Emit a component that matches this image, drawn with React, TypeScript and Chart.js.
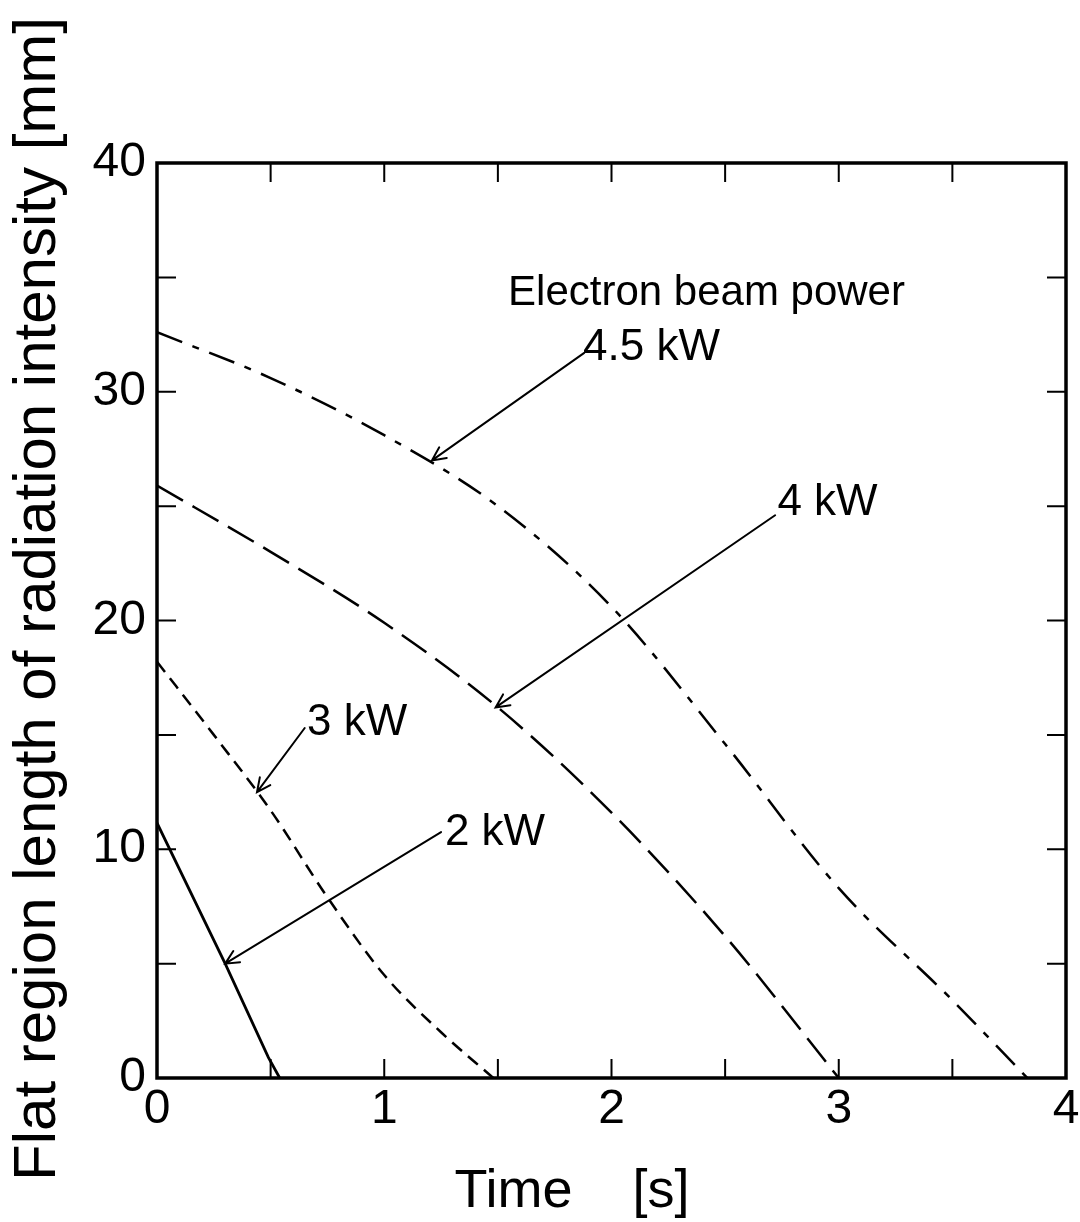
import React, { useEffect, useRef } from "react";
import { Chart, registerables } from "chart.js";

Chart.register(...registerables);

const FONT = '"Liberation Sans", Arial, Helvetica, sans-serif';

// Flat region length [mm] versus time [s] for each electron beam power
const time2kW = [0, 0.3, 0.49, 0.54];
const len2kW = [11.15, 5.0, 0.9, 0];

const time3kW = [0, 0.25, 0.5, 0.75, 1.0, 1.25, 1.48];
const len3kW = [18.2, 15.0, 11.7, 7.9, 4.5, 2.0, 0];

const time4kW = [0, 0.5, 1.0, 1.5, 2.0, 2.5, 3.0];
const len4kW = [25.9, 23.0, 19.9, 16.2, 11.6, 6.2, 0];

const time45kW = [0, 0.5, 1.0, 1.5, 2.0, 2.5, 3.0, 3.5, 3.83];
const len45kW = [32.6, 30.6, 28.1, 25.0, 20.6, 14.6, 8.3, 3.4, 0];

// Axis ranges and tick values
const xRange = [0, 4];
const yRange = [0, 40];
const xLabelStep = 1;
const yLabelStep = 10;
const xTickMarks = [0.5, 1, 1.5, 2, 2.5, 3, 3.5];
const yTickMarks = [5, 10, 15, 20, 25, 30, 35];

const xTitle = "Time    [s]";
const yTitle = "Flat region length of radiation intensity [mm]";

// Callout texts (data coordinates of the text's left baseline)
const calloutTexts = ["Electron beam power", "4.5 kW", "4 kW", "3 kW", "2 kW"];
const calloutTextX = [1.545, 1.875, 2.73, 0.66, 1.267];
const calloutTextY = [33.8, 31.4, 24.6, 15.0, 10.2];
const calloutTextSize = [42, 44, 44, 44, 44];

// Callout arrows: tail and head in data coordinates
const arrowTailX = [1.88, 2.72, 0.65, 1.25];
const arrowTailY = [31.7, 24.6, 15.3, 10.75];
const arrowHeadX = [1.21, 1.49, 0.44, 0.3];
const arrowHeadY = [27.0, 16.2, 12.5, 5.0];

const toPoints = (xs: number[], ys: number[]) => xs.map((x, i) => ({ x, y: ys[i] }));

const framePlugin = {
  id: "frame",
  afterDatasetsDraw(chart: any) {
    const { ctx, chartArea, scales } = chart;
    const { left, right, top, bottom } = chartArea;
    ctx.save();
    ctx.strokeStyle = "#000";
    ctx.lineWidth = 2;
    const tl = 19;
    ctx.beginPath();
    xTickMarks.forEach((v) => {
      const px = scales.x.getPixelForValue(v);
      ctx.moveTo(px, bottom);
      ctx.lineTo(px, bottom - tl);
      ctx.moveTo(px, top);
      ctx.lineTo(px, top + tl);
    });
    yTickMarks.forEach((v) => {
      const py = scales.y.getPixelForValue(v);
      ctx.moveTo(left, py);
      ctx.lineTo(left + tl, py);
      ctx.moveTo(right, py);
      ctx.lineTo(right - tl, py);
    });
    ctx.stroke();
    ctx.lineWidth = 3.5;
    ctx.strokeRect(left, top, right - left, bottom - top);
    ctx.restore();
  },
};

const calloutPlugin = {
  id: "callouts",
  afterDatasetsDraw(chart: any) {
    const { ctx, scales } = chart;
    const sx = scales.x;
    const sy = scales.y;
    ctx.save();
    ctx.fillStyle = "#000";
    ctx.textAlign = "left";
    ctx.textBaseline = "alphabetic";
    calloutTexts.forEach((t, i) => {
      ctx.font = `${calloutTextSize[i]}px ${FONT}`;
      ctx.fillText(t, sx.getPixelForValue(calloutTextX[i]), sy.getPixelForValue(calloutTextY[i]));
    });
    ctx.strokeStyle = "#000";
    ctx.lineWidth = 2;
    ctx.lineCap = "round";
    arrowTailX.forEach((_, i) => {
      const x0 = sx.getPixelForValue(arrowTailX[i]);
      const y0 = sy.getPixelForValue(arrowTailY[i]);
      const x1 = sx.getPixelForValue(arrowHeadX[i]);
      const y1 = sy.getPixelForValue(arrowHeadY[i]);
      const ang = Math.atan2(y0 - y1, x0 - x1);
      const hl = 15;
      const spread = 0.45;
      ctx.beginPath();
      ctx.moveTo(x0, y0);
      ctx.lineTo(x1, y1);
      ctx.moveTo(x1 + hl * Math.cos(ang + spread), y1 + hl * Math.sin(ang + spread));
      ctx.lineTo(x1, y1);
      ctx.lineTo(x1 + hl * Math.cos(ang - spread), y1 + hl * Math.sin(ang - spread));
      ctx.stroke();
    });
    ctx.restore();
  },
};

const titlePlugin = {
  id: "axisTitles",
  afterDraw(chart: any) {
    const { ctx } = chart;
    ctx.save();
    ctx.fillStyle = "#000";
    ctx.font = `54px ${FONT}`;
    ctx.textAlign = "center";
    ctx.textBaseline = "alphabetic";
    ctx.fillText(xTitle, 572, 1207);
    ctx.translate(55, 599);
    ctx.rotate(-Math.PI / 2);
    ctx.font = `60px ${FONT}`;
    ctx.fillText(yTitle, 0, 0);
    ctx.restore();
  },
};

export default function App() {
  const canvasRef = useRef<HTMLCanvasElement | null>(null);

  useEffect(() => {
    const canvas = canvasRef.current;
    if (!canvas) return;
    const tickFont = { family: FONT, size: 48 };
    const chart = new Chart(canvas, {
      type: "line",
      data: {
        datasets: [
          {
            label: "4.5 kW",
            data: toPoints(time45kW, len45kW),
            borderColor: "#000",
            borderWidth: 2.5,
            borderDash: [27, 11, 7, 11],
            pointRadius: 0,
            cubicInterpolationMode: "monotone",
          },
          {
            label: "4 kW",
            data: toPoints(time4kW, len4kW),
            borderColor: "#000",
            borderWidth: 2.5,
            borderDash: [30, 11],
            pointRadius: 0,
            cubicInterpolationMode: "monotone",
          },
          {
            label: "3 kW",
            data: toPoints(time3kW, len3kW),
            borderColor: "#000",
            borderWidth: 2.5,
            borderDash: [13, 8],
            pointRadius: 0,
            cubicInterpolationMode: "monotone",
          },
          {
            label: "2 kW",
            data: toPoints(time2kW, len2kW),
            borderColor: "#000",
            borderWidth: 2.8,
            pointRadius: 0,
            tension: 0,
          },
        ],
      },
      options: {
        animation: false,
        responsive: false,
        maintainAspectRatio: false,
        devicePixelRatio: 1,
        layout: { padding: { left: 0, top: 163, right: 14, bottom: 0 } },
        plugins: {
          legend: { display: false },
          tooltip: { enabled: false },
          title: { display: false },
        },
        scales: {
          x: {
            type: "linear",
            min: xRange[0],
            max: xRange[1],
            ticks: { stepSize: xLabelStep, font: tickFont, color: "#000", padding: 3, maxRotation: 0 },
            grid: { display: false, drawTicks: false },
            border: { display: false },
            afterFit: (s: any) => {
              s.height = 144;
              s.paddingLeft = 0;
              s.paddingRight = 0;
            },
          },
          y: {
            type: "linear",
            min: yRange[0],
            max: yRange[1],
            ticks: { stepSize: yLabelStep, font: tickFont, color: "#000", padding: 11 },
            grid: { display: false, drawTicks: false },
            border: { display: false },
            afterFit: (s: any) => {
              s.width = 157;
              s.paddingTop = 0;
              s.paddingBottom = 0;
            },
          },
        },
      },
      plugins: [framePlugin, calloutPlugin, titlePlugin],
    });
    return () => chart.destroy();
  }, []);

  return (
    <div style={{ position: "absolute", left: 0, top: 0, width: 1080, height: 1222, background: "#fff" }}>
      <canvas ref={canvasRef} width={1080} height={1222} style={{ display: "block" }} />
    </div>
  );
}
